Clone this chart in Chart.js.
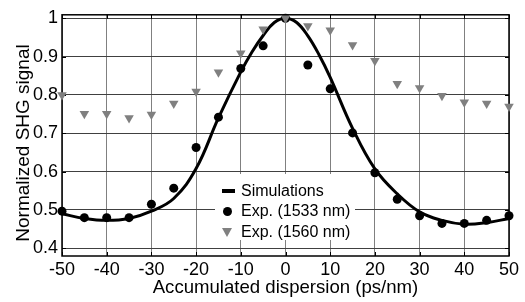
<!DOCTYPE html>
<html>
<head>
<meta charset="utf-8">
<script src="https://cdn.jsdelivr.net/npm/chart.js@4.4.1/dist/chart.umd.min.js"></script>
<style>
  html, body { margin: 0; padding: 0; background: #fff; }
  #wrap { position: relative; width: 525px; height: 302px; }
  #legend {
    position: absolute; left: 215px; top: 174px; width: 140px; height: 66px;
    background: #fff; font-family: "Liberation Sans", Arial, sans-serif; font-size: 16px; color: #000;
  }
  #legend .row { position: absolute; left: 0; height: 20px; line-height: 20px; }
  #legend .mark { position: absolute; left: 6px; top: 0; width: 14px; height: 20px; }
  #legend .txt { position: absolute; left: 26px; top: 0; white-space: nowrap; }
</style>
</head>
<body>
<div id="wrap">
  <canvas id="myChart" width="525" height="302"></canvas>
  <div id="legend"></div>
</div>
<script>
var dispersion = [-50, -45, -40, -35, -30, -25, -20, -15, -10, -5, 0, 5, 10, 15, 20, 25, 30, 35, 40, 45, 50];
var exp1533 = [0.497, 0.480, 0.480, 0.480, 0.515, 0.557, 0.663, 0.742, 0.869, 0.928, 1.000, 0.878, 0.816, 0.701, 0.597, 0.528, 0.485, 0.465, 0.465, 0.473, 0.485];
var exp1560 = [0.800, 0.751, 0.751, 0.740, 0.749, 0.778, 0.809, 0.859, 0.909, 0.971, 1.000, 0.980, 0.969, 0.930, 0.889, 0.829, 0.818, 0.798, 0.781, 0.778, 0.770];

var simX = [-50, -45, -40, -35, -30, -25, -20, -15, -10, -7.5, -5, -2.5, 0, 2.5, 5, 7.5, 10, 15, 20, 25, 30, 35, 40, 45, 50];
var simY = [0.490, 0.478, 0.473, 0.478, 0.497, 0.530, 0.608, 0.740, 0.860, 0.912, 0.955, 0.989, 1.000, 0.989, 0.954, 0.905, 0.846, 0.713, 0.607, 0.542, 0.495, 0.473, 0.463, 0.467, 0.478];

var seriesNames = ["Simulations", "Exp. (1533 nm)", "Exp. (1560 nm)"];
var xTicks = [-50, -40, -30, -20, -10, 0, 10, 20, 30, 40, 50];
var yTicks = [0.4, 0.5, 0.6, 0.7, 0.8, 0.9, 1];
var xTitle = "Accumulated dispersion (ps/nm)";
var yTitle = "Normalized SHG signal";

function pairs(xs, ys) {
    var out = [];
    for (var i = 0; i < xs.length; i++) out.push({x: xs[i], y: ys[i]});
    return out;
}

var FONT = "'Liberation Sans', Arial, sans-serif";

// short black ticks pointing inward on all four sides + frame
const framePlugin = {
    id: 'frame',
    beforeDatasetsDraw(chart) {
        var ctx = chart.ctx, a = chart.chartArea;
        var xs = chart.scales.x, ys = chart.scales.y;
        ctx.save();
        ctx.strokeStyle = '#000';
        ctx.lineWidth = 1;
        var len = 4;
        ctx.beginPath();
        xTicks.forEach(function(v) {
            var px = Math.round(xs.getPixelForValue(v)) + 0.5;
            ctx.moveTo(px, a.bottom); ctx.lineTo(px, a.bottom - len);
            ctx.moveTo(px, a.top); ctx.lineTo(px, a.top + len);
        });
        yTicks.forEach(function(v) {
            var py = Math.round(ys.getPixelForValue(v)) + 0.5;
            ctx.moveTo(a.left, py); ctx.lineTo(a.left + len, py);
            ctx.moveTo(a.right, py); ctx.lineTo(a.right - len, py);
        });
        ctx.stroke();
        ctx.lineWidth = 1.5;
        ctx.strokeRect(a.left, a.top, a.right - a.left, a.bottom - a.top);
        ctx.restore();
    },
    afterDraw(chart) {
        // axis titles, placed by hand
        var ctx = chart.ctx, a = chart.chartArea;
        ctx.save();
        ctx.fillStyle = '#000';
        ctx.textAlign = 'center';
        ctx.textBaseline = 'alphabetic';
        ctx.font = '18.6px ' + FONT;
        ctx.fillText(xTitle, (a.left + a.right) / 2, 293);
        ctx.translate(28.5, 143);
        ctx.rotate(-Math.PI / 2);
        ctx.font = '19px ' + FONT;
        ctx.fillText(yTitle, 0, 0);
        ctx.restore();
    }
};

const data = {
    datasets: [{
        label: seriesNames[0],
        data: pairs(simX, simY),
        showLine: true,
        borderColor: '#000',
        borderWidth: 3,
        pointRadius: 0,
        tension: 0.4,
        clip: false,
        order: 3
    }, {
        label: seriesNames[1],
        data: pairs(dispersion, exp1533),
        pointStyle: 'circle',
        pointRadius: 4.5,
        backgroundColor: '#000',
        borderColor: '#000',
        borderWidth: 0,
        clip: false,
        order: 2
    }, {
        label: seriesNames[2],
        data: pairs(dispersion, exp1560),
        pointStyle: 'triangle',
        rotation: 180,
        pointRadius: 5.5,
        backgroundColor: '#808080',
        borderColor: '#808080',
        borderWidth: 0,
        clip: false,
        order: 1
    }]
};

const config = {
    type: 'scatter',
    data,
    plugins: [framePlugin],
    options: {
        responsive: false,
        animation: false,
        layout: { padding: { left: 0, right: 16, top: 14, bottom: 0 } },
        plugins: { legend: { display: false }, tooltip: { enabled: false } },
        scales: {
            x: {
                type: 'linear', min: -50, max: 50,
                afterBuildTicks: function(s) { s.ticks = xTicks.map(function(v) { return {value: v}; }); },
                afterFit: function(s) { s.height = 46; },
                grid: { color: '#808080', lineWidth: 1, drawTicks: false },
                border: { display: false },
                ticks: { color: '#000', padding: 3, font: { family: FONT, size: 18 } }
            },
            y: {
                min: 0.38, max: 1.009,
                afterBuildTicks: function(s) { s.ticks = yTicks.map(function(v) { return {value: v}; }); },
                afterFit: function(s) { s.width = 62; },
                grid: { color: '#404040', lineWidth: 1, drawTicks: false },
                border: { display: false },
                ticks: { color: '#000', padding: 4, font: { family: FONT, size: 18 },
                         callback: function(v) { return String(Math.round(v * 10) / 10); } }
            }
        }
    }
};

const myChart = new Chart(document.getElementById('myChart'), config);

// legend box inside the plot
var legend = document.getElementById('legend');
var marks = [
    '<div style="position:absolute;left:1px;top:8px;width:13px;height:4px;background:#000"></div>',
    '<div style="position:absolute;left:2px;top:6px;width:9px;height:9px;border-radius:50%;background:#000"></div>',
    '<div style="position:absolute;left:1px;top:6px;width:0;height:0;border-left:5px solid transparent;border-right:5px solid transparent;border-top:9px solid #808080"></div>'
];
for (var i = 0; i < seriesNames.length; i++) {
    var row = document.createElement('div');
    row.className = 'row';
    row.style.top = (7 + i * 20.3) + 'px';
    row.innerHTML = '<div class="mark">' + marks[i] + '</div><div class="txt">' + seriesNames[i] + '</div>';
    legend.appendChild(row);
}
</script>
</body>
</html>
